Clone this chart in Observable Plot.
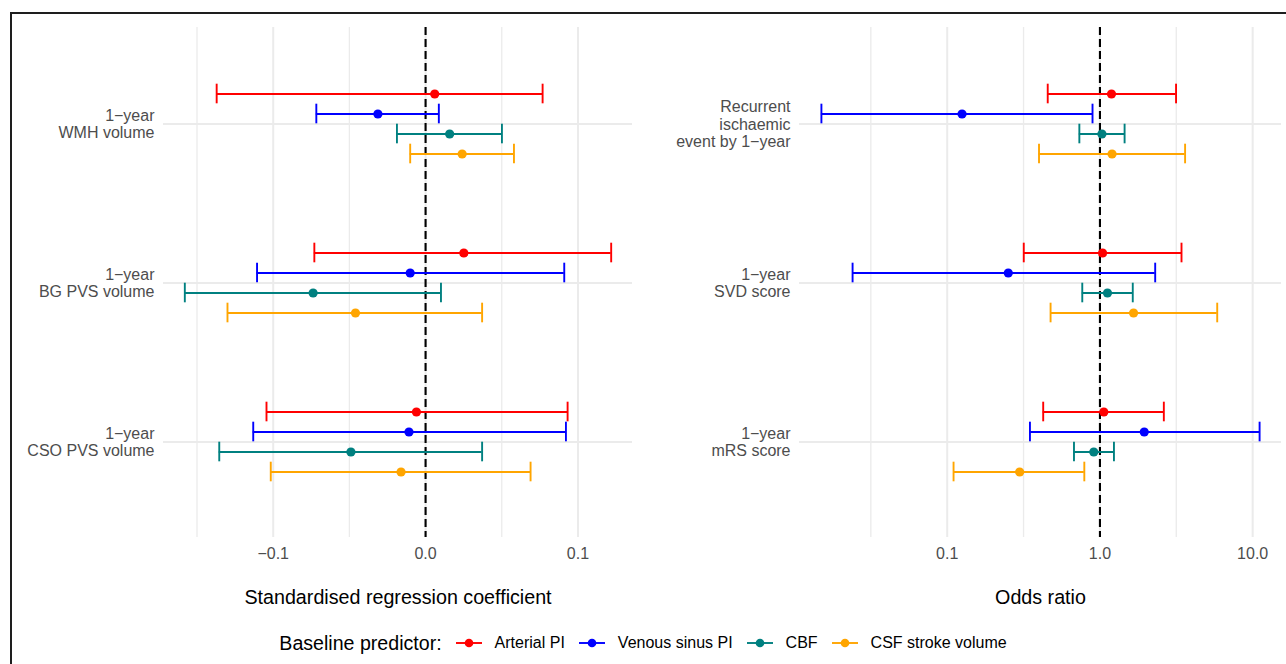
<!DOCTYPE html>
<html>
<head>
<meta charset="utf-8">
<script src="https://cdn.jsdelivr.net/npm/d3@7"></script>
<script src="https://cdn.jsdelivr.net/npm/@observablehq/plot@0.6"></script>
<style>
  html, body { margin: 0; padding: 0; background: #fff; overflow: hidden; }
  body { width: 1286px; height: 664px; position: relative; font-family: "Liberation Sans", Arial, Helvetica, sans-serif; }
  #frame { position: absolute; left: 10px; top: 12px; width: 1300px; height: 700px; border-left: 2.7px solid #1e1e1e; border-top: 2.3px solid #1e1e1e; box-sizing: border-box; }
  .panel { position: absolute; top: 0; }
  #legend { position: absolute; left: 0; top: 630px; width: 1286px; display: flex; justify-content: center; align-items: center; height: 26px; color: #000; }
  #legend .title { font-size: 19.6px; margin-right: 14px; }
  #legend .lab { font-size: 16px; margin-right: 14px; }
  #legend .lab:last-child { margin-right: 0; }
  #legend svg { margin-right: 13px; }
</style>
</head>
<body>
<div id="frame"></div>
<div id="left" class="panel" style="left:0px"></div>
<div id="right" class="panel" style="left:640px"></div>
<div id="legend"></div>
<script>
// ---------- data ----------
const predictors = ["Arterial PI", "Venous sinus PI", "CBF", "CSF stroke volume"];
const predictorColors = ["#FF0000", "#0000FF", "#008080", "#FFA500"];

// Left panel: standardised regression coefficients
const leftOutcomes = ["1\u2212year\nWMH volume", "1\u2212year\nBG PVS volume", "1\u2212year\nCSO PVS volume"];
const coefEst = [
  [0.0060, -0.0313, 0.0158, 0.0240],
  [0.0251, -0.0101, -0.0738, -0.0460],
  [-0.0060, -0.0109, -0.0490, -0.0161]
];
const coefLow = [
  [-0.1371, -0.0717, -0.0188, -0.0101],
  [-0.0730, -0.1106, -0.1580, -0.1300],
  [-0.1044, -0.1131, -0.1354, -0.1016]
];
const coefHigh = [
  [0.0768, 0.0087, 0.0501, 0.0580],
  [0.1218, 0.0910, 0.0101, 0.0371],
  [0.0932, 0.0921, 0.0371, 0.0689]
];
const leftTicks = [-0.1, 0, 0.1];
const leftMinorTicks = [-0.15, -0.05, 0.05];

// Right panel: odds ratios
const rightOutcomes = ["Recurrent\nischaemic\nevent by 1\u2212year", "1\u2212year\nSVD score", "1\u2212year\nmRS score"];
const orEst = [
  [1.19, 0.125, 1.03, 1.20],
  [1.04, 0.251, 1.12, 1.66],
  [1.06, 1.95, 0.911, 0.298]
];
const orLow = [
  [0.455, 0.0150, 0.733, 0.399],
  [0.317, 0.0240, 0.766, 0.475],
  [0.425, 0.348, 0.676, 0.110]
];
const orHigh = [
  [3.15, 0.894, 1.45, 3.61],
  [3.42, 2.30, 1.64, 5.86],
  [2.62, 11.1, 1.235, 0.790]
];
const rightTicks = [0.1, 1, 10];
const rightMinorTicks = [0.0316, 0.316, 3.16];

const leftTitle = "Standardised regression coefficient";
const rightTitle = "Odds ratio";
const legendTitle = "Baseline predictor:";

// ---------- build tables ----------
function table(outcomes, est, low, high) {
  const rows = [];
  outcomes.forEach((o, i) => predictors.forEach((p, j) => {
    rows.push({outcome: o, predictor: p, est: est[i][j], low: low[i][j], high: high[i][j]});
  }));
  return rows;
}
const leftData = table(leftOutcomes, coefEst, coefLow, coefHigh);
const rightData = table(rightOutcomes, orEst, orLow, orHigh);

// ---------- layout ----------
const H = 620, marginTop = 27, marginBottom = H - 537;
const expand = 0.6;                                  // discrete expansion (ggplot)
const nOut = 3;
const bandStep = (537 - marginTop) / (nOut - 1 + 2 * expand);
const capHeight = 20, dodgeStep = 20;
const inset = (bandStep - capHeight) / 2;
const grey = "#EBEBEB";
const font = "'Liberation Sans', Arial, Helvetica, sans-serif";

function expandedDomain(data, log) {
  const f = log ? Math.log10 : (v => v);
  const g = log ? (v => Math.pow(10, v)) : (v => v);
  const lo = d3.min(data, d => f(d.low)), hi = d3.max(data, d => f(d.high));
  const pad = (hi - lo) * 0.05;
  return [g(lo - pad), g(hi + pad)];
}

function panel({data, outcomes, log, width, marginLeft, marginRight, ticks, minor, ref, title}) {
  const marks = [
    Plot.ruleX(minor, {stroke: grey, strokeWidth: 1.3}),
    Plot.ruleX(ticks, {stroke: grey, strokeWidth: 2}),
    Plot.gridY({stroke: grey, strokeOpacity: 1, strokeWidth: 2}),
    Plot.ruleX([ref], {stroke: "#000", strokeWidth: 2.1, strokeDasharray: "8,4"})
  ];
  predictors.forEach((p, j) => {
    const d = data.filter(r => r.predictor === p);
    const dy = (j - (predictors.length - 1) / 2) * dodgeStep;
    const c = predictorColors[j];
    marks.push(
      Plot.ruleY(d, {x1: "low", x2: "high", y: "outcome", stroke: c, strokeWidth: 1.9, dy}),
      Plot.tickX(d, {x: "low", y: "outcome", stroke: c, strokeWidth: 1.9, dy, insetTop: inset, insetBottom: inset}),
      Plot.tickX(d, {x: "high", y: "outcome", stroke: c, strokeWidth: 1.9, dy, insetTop: inset, insetBottom: inset}),
      Plot.dot(d, {x: "est", y: "outcome", fill: c, stroke: "none", r: 4.6, dy})
    );
  });
  marks.push(
    Plot.axisX(ticks, {tickSize: 0, tickPadding: 10, fontSize: 16, fill: "#4D4D4D", label: null,
      tickFormat: v => v.toFixed(1).replace("-", "\u2212")}),
    Plot.axisY({tickSize: 0, tickPadding: 9, fontSize: 16, fill: "#4D4D4D", label: null, lineHeight: 1.08}),
    Plot.text([title], {frameAnchor: "bottom", lineAnchor: "middle", dy: 60, fontSize: 19.7, fill: "#000"})
  );
  return Plot.plot({
    width, height: H, marginLeft, marginRight, marginTop, marginBottom,
    style: {fontFamily: font, background: "transparent", overflow: "visible"},
    x: {type: log ? "log" : "linear", domain: expandedDomain(data, log)},
    y: {type: "band", domain: outcomes, paddingInner: 0, paddingOuter: expand - 0.5},
    marks
  });
}

document.getElementById("left").append(panel({
  data: leftData, outcomes: leftOutcomes, log: false, width: 640, marginLeft: 163, marginRight: 8,
  ticks: leftTicks, minor: leftMinorTicks, ref: 0, title: leftTitle
}));
document.getElementById("right").append(panel({
  data: rightData, outcomes: rightOutcomes, log: true, width: 646, marginLeft: 159, marginRight: 5,
  ticks: rightTicks, minor: rightMinorTicks, ref: 1, title: rightTitle
}));

// ---------- legend ----------
const legend = document.getElementById("legend");
const lt = document.createElement("span");
lt.className = "title"; lt.textContent = legendTitle;
legend.append(lt);
const NS = "http://www.w3.org/2000/svg";
predictors.forEach((p, j) => {
  const svg = document.createElementNS(NS, "svg");
  svg.setAttribute("width", 26); svg.setAttribute("height", 20);
  const line = document.createElementNS(NS, "line");
  line.setAttribute("x1", 0); line.setAttribute("x2", 26); line.setAttribute("y1", 10); line.setAttribute("y2", 10);
  line.setAttribute("stroke", predictorColors[j]); line.setAttribute("stroke-width", 1.9);
  const dot = document.createElementNS(NS, "circle");
  dot.setAttribute("cx", 13); dot.setAttribute("cy", 10); dot.setAttribute("r", 4.3);
  dot.setAttribute("fill", predictorColors[j]);
  svg.append(line, dot);
  const lab = document.createElement("span");
  lab.className = "lab"; lab.textContent = p;
  legend.append(svg, lab);
});
</script>
</body>
</html>
